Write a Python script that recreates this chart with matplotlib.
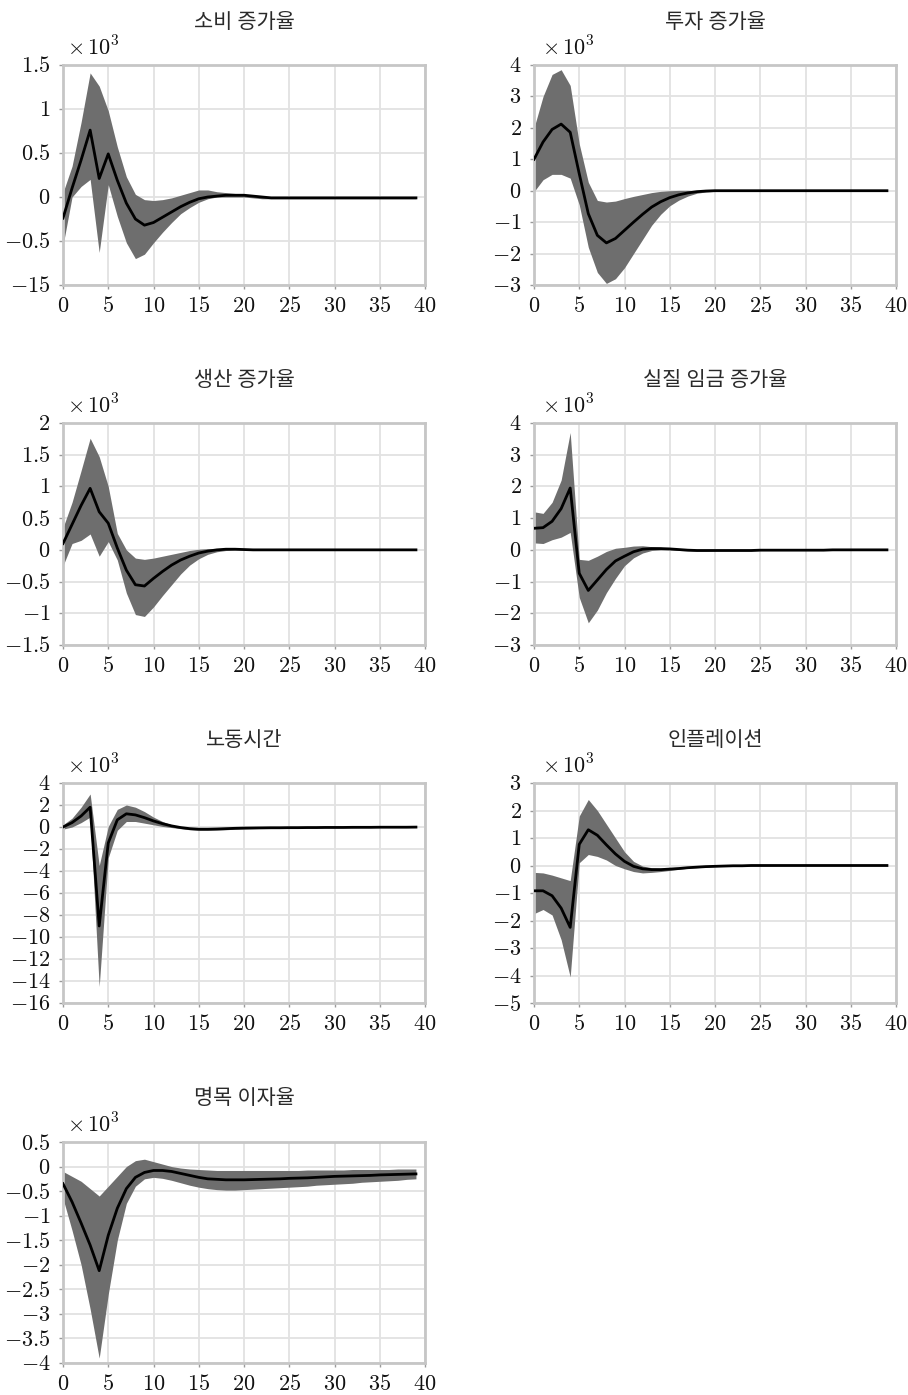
import numpy as np
import matplotlib
matplotlib.use('Agg')
import matplotlib.pyplot as plt

plt.rcParams['font.family'] = ['Liberation Serif', 'Noto Sans CJK KR']
plt.rcParams['mathtext.fontset'] = 'cm'
plt.rcParams['axes.unicode_minus'] = True

# horizon 0..39
horizon = list(range(40))

titles = ['소비 증가율', '투자 증가율', '생산 증가율', '실질 임금 증가율',
          '노동시간', '인플레이션', '명목 이자율']

cons_mean = [-0.24, 0.10, 0.42, 0.76, 0.21, 0.49, 0.19, -0.07, -0.25, -0.32,
             -0.29, -0.23, -0.17, -0.11, -0.06, -0.02, 0.00, 0.01, 0.02, 0.02,
             0.02, 0.01, 0.00, -0.01, -0.01, -0.01, -0.01, -0.01, -0.01, -0.01,
             -0.01, -0.01, -0.01, -0.01, -0.01, -0.01, -0.01, -0.01, -0.01, -0.01]
cons_up = [0.05, 0.35, 0.85, 1.41, 1.26, 0.98, 0.57, 0.23, 0.03, -0.03,
           -0.04, -0.03, -0.01, 0.02, 0.05, 0.08, 0.08, 0.06, 0.05, 0.04,
           0.03, 0.02, 0.01, 0.00, 0.00, 0.00, 0.00, 0.00, 0.00, 0.00,
           0.00, 0.00, 0.00, 0.00, 0.00, 0.00, 0.00, 0.00, 0.00, 0.00]
cons_lo = [-0.55, 0.00, 0.12, 0.20, -0.63, 0.14, -0.22, -0.52, -0.70, -0.65,
           -0.52, -0.40, -0.29, -0.19, -0.12, -0.06, -0.02, 0.00, 0.00, 0.00,
           0.00, -0.01, -0.02, -0.02, -0.02, -0.02, -0.02, -0.02, -0.02, -0.02,
           -0.02, -0.02, -0.02, -0.02, -0.02, -0.02, -0.02, -0.02, -0.02, -0.02]

inv_mean = [1.00, 1.55, 1.95, 2.12, 1.86, 0.54, -0.73, -1.42, -1.66, -1.52,
            -1.26, -1.00, -0.75, -0.52, -0.35, -0.22, -0.13, -0.07, -0.03, -0.01,
            0.00, 0.00, 0.00, 0.00, 0.00, 0.00, 0.00, 0.00, 0.00, 0.00,
            0.00, 0.00, 0.00, 0.00, 0.00, 0.00, 0.00, 0.00, 0.00, 0.00]
inv_up = [2.00, 3.00, 3.70, 3.85, 3.35, 1.49, 0.27, -0.31, -0.36, -0.33,
          -0.25, -0.18, -0.12, -0.06, -0.02, 0.00, 0.01, 0.01, 0.00, 0.00,
          0.00, 0.00, 0.00, 0.00, 0.00, 0.00, 0.00, 0.00, 0.00, 0.00,
          0.00, 0.00, 0.00, 0.00, 0.00, 0.00, 0.00, 0.00, 0.00, 0.00]
inv_lo = [-0.03, 0.35, 0.52, 0.52, 0.40, -0.45, -1.80, -2.60, -2.95, -2.80,
          -2.45, -2.00, -1.55, -1.10, -0.75, -0.48, -0.30, -0.17, -0.08, -0.04,
          -0.02, 0.00, 0.00, 0.00, 0.00, 0.00, 0.00, 0.00, 0.00, 0.00,
          0.00, 0.00, 0.00, 0.00, 0.00, 0.00, 0.00, 0.00, 0.00, 0.00]

out_mean = [0.10, 0.40, 0.70, 0.97, 0.60, 0.42, 0.03, -0.32, -0.55, -0.57,
            -0.45, -0.34, -0.24, -0.16, -0.10, -0.05, -0.02, 0.00, 0.01, 0.01,
            0.005, 0.00, 0.00, 0.00, 0.00, 0.00, 0.00, 0.00, 0.00, 0.00,
            0.00, 0.00, 0.00, 0.00, 0.00, 0.00, 0.00, 0.00, 0.00, 0.00]
out_up = [0.35, 0.75, 1.25, 1.76, 1.47, 1.00, 0.26, 0.00, -0.13, -0.15,
          -0.13, -0.10, -0.07, -0.04, -0.01, 0.01, 0.02, 0.02, 0.02, 0.02,
          0.01, 0.00, 0.00, 0.00, 0.00, 0.00, 0.00, 0.00, 0.00, 0.00,
          0.00, 0.00, 0.00, 0.00, 0.00, 0.00, 0.00, 0.00, 0.00, 0.00]
out_lo = [-0.25, 0.10, 0.15, 0.25, -0.10, 0.13, -0.16, -0.68, -1.02, -1.05,
          -0.90, -0.72, -0.55, -0.38, -0.24, -0.14, -0.07, -0.03, -0.01, 0.00,
          0.00, 0.00, 0.00, 0.00, 0.00, 0.00, 0.00, 0.00, 0.00, 0.00,
          0.00, 0.00, 0.00, 0.00, 0.00, 0.00, 0.00, 0.00, 0.00, 0.00]

wage_mean = [0.68, 0.70, 0.90, 1.30, 1.95, -0.74, -1.28, -0.95, -0.62, -0.35,
             -0.20, -0.06, 0.02, 0.04, 0.04, 0.03, 0.01, -0.01, -0.02, -0.02,
             -0.02, -0.02, -0.02, -0.02, -0.02, -0.01, -0.01, -0.01, -0.01, -0.01,
             -0.01, -0.01, -0.01, 0.00, 0.00, 0.00, 0.00, 0.00, 0.00, 0.00]
wage_up = [1.20, 1.15, 1.50, 2.20, 3.70, -0.30, -0.33, -0.20, -0.05, 0.05,
           0.08, 0.12, 0.13, 0.10, 0.08, 0.05, 0.02, 0.00, 0.00, 0.00,
           0.00, 0.00, 0.00, 0.00, 0.00, 0.00, 0.00, 0.00, 0.00, 0.00,
           0.00, 0.00, 0.00, 0.00, 0.00, 0.00, 0.00, 0.00, 0.00, 0.00]
wage_lo = [0.22, 0.20, 0.32, 0.40, 0.55, -1.50, -2.30, -1.90, -1.35, -0.90,
           -0.50, -0.25, -0.10, -0.02, 0.00, 0.00, -0.02, -0.03, -0.04, -0.04,
           -0.03, -0.03, -0.03, -0.03, -0.03, -0.02, -0.02, -0.02, -0.02, -0.02,
           -0.02, -0.02, -0.02, -0.01, -0.01, -0.01, -0.01, -0.01, -0.01, -0.01]

hours_mean = [0.00, 0.40, 1.00, 1.80, -9.00, -1.45, 0.65, 1.20, 1.10, 0.85,
              0.55, 0.30, 0.10, -0.05, -0.15, -0.20, -0.20, -0.18, -0.15, -0.12,
              -0.10, -0.09, -0.08, -0.07, -0.07, -0.06, -0.06, -0.05, -0.05, -0.04,
              -0.04, -0.04, -0.03, -0.03, -0.03, -0.02, -0.02, -0.02, -0.02, -0.01]
hours_up = [0.20, 0.80, 1.80, 3.00, -3.50, 0.05, 1.60, 2.00, 1.80, 1.40,
            0.90, 0.50, 0.20, 0.00, -0.10, -0.12, -0.12, -0.10, -0.08, -0.06,
            -0.05, -0.04, -0.04, -0.03, -0.03, -0.03, -0.02, -0.02, -0.02, -0.02,
            -0.02, -0.01, -0.01, -0.01, -0.01, -0.01, -0.01, -0.01, -0.01, 0.00]
hours_lo = [-0.20, 0.00, 0.40, 0.90, -14.50, -2.80, -0.30, 0.50, 0.50, 0.35,
            0.20, 0.05, -0.05, -0.15, -0.25, -0.30, -0.30, -0.28, -0.25, -0.20,
            -0.17, -0.15, -0.13, -0.12, -0.11, -0.10, -0.09, -0.08, -0.08, -0.07,
            -0.07, -0.06, -0.06, -0.05, -0.05, -0.04, -0.04, -0.03, -0.03, -0.03]

infl_mean = [-0.92, -0.92, -1.10, -1.55, -2.25, 0.77, 1.30, 1.10, 0.75, 0.42,
             0.15, -0.03, -0.12, -0.15, -0.15, -0.13, -0.11, -0.08, -0.06, -0.04,
             -0.03, -0.02, -0.01, -0.01, 0.00, 0.00, 0.00, 0.00, 0.00, 0.00,
             0.00, 0.00, 0.00, 0.00, 0.00, 0.00, 0.00, 0.00, 0.00, 0.00]
infl_up = [-0.25, -0.27, -0.35, -0.45, -0.55, 1.80, 2.40, 2.00, 1.50, 1.00,
           0.50, 0.15, -0.02, -0.08, -0.09, -0.08, -0.06, -0.04, -0.03, -0.02,
           -0.01, 0.00, 0.00, 0.00, 0.00, 0.00, 0.00, 0.00, 0.00, 0.00,
           0.00, 0.00, 0.00, 0.00, 0.00, 0.00, 0.00, 0.00, 0.00, 0.00]
infl_lo = [-1.75, -1.60, -1.80, -2.70, -4.05, 0.10, 0.40, 0.33, 0.20, 0.00,
           -0.12, -0.22, -0.27, -0.25, -0.22, -0.18, -0.14, -0.10, -0.08, -0.06,
           -0.04, -0.03, -0.02, -0.02, -0.01, -0.01, -0.01, 0.00, 0.00, 0.00,
           0.00, 0.00, 0.00, 0.00, 0.00, 0.00, 0.00, 0.00, 0.00, 0.00]

rate_mean = [-0.35, -0.72, -1.15, -1.60, -2.12, -1.40, -0.85, -0.45, -0.22, -0.12,
             -0.08, -0.08, -0.10, -0.14, -0.18, -0.22, -0.25, -0.26, -0.27, -0.27,
             -0.27, -0.265, -0.26, -0.255, -0.25, -0.24, -0.235, -0.23, -0.22, -0.21,
             -0.20, -0.195, -0.19, -0.185, -0.18, -0.17, -0.165, -0.16, -0.155, -0.15]
rate_up = [-0.10, -0.20, -0.30, -0.45, -0.60, -0.40, -0.20, 0.00, 0.12, 0.15,
           0.10, 0.05, 0.00, -0.03, -0.05, -0.06, -0.07, -0.08, -0.08, -0.08,
           -0.08, -0.08, -0.08, -0.08, -0.08, -0.08, -0.08, -0.07, -0.07, -0.07,
           -0.07, -0.07, -0.06, -0.06, -0.06, -0.06, -0.06, -0.05, -0.05, -0.05]
rate_lo = [-0.65, -1.30, -2.00, -2.90, -3.90, -2.60, -1.50, -0.75, -0.40, -0.25,
           -0.22, -0.24, -0.28, -0.33, -0.38, -0.42, -0.45, -0.47, -0.48, -0.48,
           -0.47, -0.46, -0.45, -0.44, -0.43, -0.42, -0.41, -0.40, -0.38, -0.37,
           -0.36, -0.35, -0.34, -0.32, -0.31, -0.30, -0.29, -0.28, -0.26, -0.25]

# y axis ticks (labels as printed, incl. the "-15" on the first panel)
cons_ticks = [-1, -0.5, 0, 0.5, 1, 1.5]
cons_labels = ['-15', '-0.5', '0', '0.5', '1', '1.5']
inv_ticks = [-3, -2, -1, 0, 1, 2, 3, 4]
out_ticks = [-1.5, -1, -0.5, 0, 0.5, 1, 1.5, 2]
wage_ticks = [-3, -2, -1, 0, 1, 2, 3, 4]
hours_ticks = [-16, -14, -12, -10, -8, -6, -4, -2, 0, 2, 4]
infl_ticks = [-5, -4, -3, -2, -1, 0, 1, 2, 3]
rate_ticks = [-4, -3.5, -3, -2.5, -2, -1.5, -1, -0.5, 0, 0.5]
x_ticks = [0, 5, 10, 15, 20, 25, 30, 35, 40]


def tex(s):
    return '$' + s + '$'


panels = [
    (cons_mean, cons_up, cons_lo, cons_ticks, cons_labels),
    (inv_mean, inv_up, inv_lo, inv_ticks, None),
    (out_mean, out_up, out_lo, out_ticks, None),
    (wage_mean, wage_up, wage_lo, wage_ticks, None),
    (hours_mean, hours_up, hours_lo, hours_ticks, None),
    (infl_mean, infl_up, infl_lo, infl_ticks, None),
    (rate_mean, rate_up, rate_lo, rate_ticks, None),
]

W, H = 908, 1395
fig = plt.figure(figsize=(W / 100, H / 100), dpi=100)

col_left = [63, 534]
col_width = 362
row_top = [65, 423, 783, 1142]
row_height = [220, 222, 220, 221]

for i, (mean, up, lo, ticks, labels) in enumerate(panels):
    r, c = divmod(i, 2)
    ax = fig.add_axes([col_left[c] / W, 1 - (row_top[r] + row_height[r]) / H,
                       col_width / W, row_height[r] / H])
    ax.fill_between(horizon, lo, up, color='#6e6e6e', linewidth=0, zorder=2)
    ax.plot(horizon, mean, color='black', linewidth=2.0, zorder=3)

    ax.set_xlim(0, 40)
    ax.set_ylim(ticks[0], ticks[-1])
    ax.set_xticks(x_ticks)
    ax.set_yticks(ticks)
    ax.set_xticklabels([tex(str(t)) for t in x_ticks])
    ylabs = labels if labels else ['%g' % t for t in ticks]
    ax.set_yticklabels([tex(s) for s in ylabs])
    ax.grid(True, color='#e2e2e2', linewidth=1.3, zorder=0)
    ax.set_axisbelow(True)
    for sp in ax.spines.values():
        sp.set_color('#c6c6c6')
        sp.set_linewidth(2.0)
    ax.tick_params(axis='both', labelsize=16, colors='#9a9a9a',
                   labelcolor='#111111', length=3, width=1.0, pad=6)

    ax.set_title(titles[i], fontsize=15, pad=27, color='#2a2a2a',
                 fontweight='light')
    dx = 0.012 if c == 0 else 0.022
    ax.text(dx, 1.02, r'$\times\,10^3$', transform=ax.transAxes, fontsize=16,
            ha='left', va='bottom', color='#111111')

fig.savefig('out.png', dpi=100, facecolor='white')
